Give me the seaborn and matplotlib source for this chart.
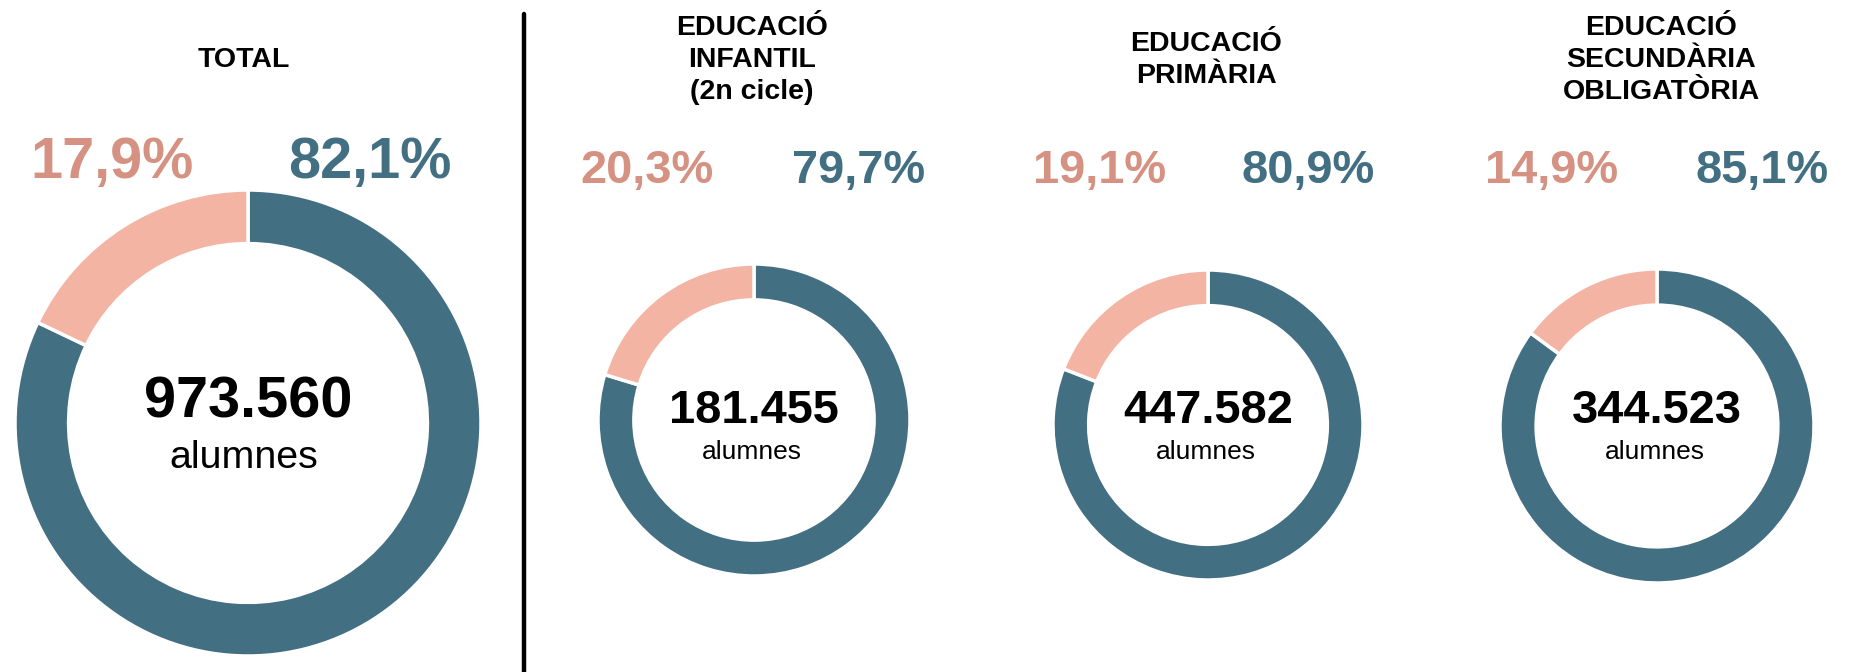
import matplotlib
matplotlib.use("Agg")
import matplotlib.pyplot as plt
import seaborn as sns

# dades
etapes = ["TOTAL", "EDUCACIÓ\nINFANTIL\n(2n cicle)", "EDUCACIÓ\nPRIMÀRIA",
          "EDUCACIÓ\nSECUNDÀRIA\nOBLIGATÒRIA"]
alumnes = [973560, 181455, 447582, 344523]
pct_blau = [82.1, 79.7, 80.9, 85.1]
pct_salmo = [17.9, 20.3, 19.1, 14.9]

sns.set_theme(style="white")
plt.rcParams['font.family'] = ['Liberation Sans', 'DejaVu Sans']

BLAU = "#436f83"
SALMO = "#f3b4a3"
SALMO_TXT = "#d59282"

W, H = 1850, 672
fig = plt.figure(figsize=(W / 100, H / 100), dpi=100)

# posicions en pixels (centre x, centre y des de dalt, radi)
donuts = [(248, 423, 233), (754, 420, 156), (1208, 425, 155), (1657, 426, 157)]
pct_x = [(112, 370), (647, 859), (1100, 1308), (1552, 1762)]
titol_x = [244, 752, 1206, 1661]


def fx(x):
    return x / W


def fy(y):
    return 1 - y / H


def fmt_num(n):
    return f"{n:,}".replace(",", ".")


def fmt_pct(p):
    return f"{p:.1f}%".replace(".", ",")


for i, (cx, cy, r) in enumerate(donuts):
    ax = fig.add_axes([fx(cx - r), fy(cy + r), 2 * r / W, 2 * r / H])
    ax.pie([pct_blau[i], pct_salmo[i]], colors=[BLAU, SALMO], startangle=90,
           counterclock=False, radius=1,
           wedgeprops=dict(width=0.23, edgecolor="white", linewidth=2.5))
    ax.set_xlim(-1, 1)
    ax.set_ylim(-1, 1)
    ax.set_aspect("equal")
    ax.axis("off")

    gran = i == 0
    # nombre d'alumnes al centre
    fig.text(fx(cx), fy(418 if gran else 423), fmt_num(alumnes[i]),
             ha="center", va="baseline", fontsize=41.5 if gran else 33.8,
             fontweight="bold", color="black")
    fig.text(fx(cx - (4 if gran else 2)), fy(468 if gran else 459), "alumnes",
             ha="center", va="baseline", fontsize=28.4 if gran else 19,
             color="black")

    # percentatges
    base = 178 if gran else 183
    mida = 41.5 if gran else 33.8
    fig.text(fx(pct_x[i][0]), fy(base), fmt_pct(pct_salmo[i]), ha="center",
             va="baseline", fontsize=mida, fontweight="bold", color=SALMO_TXT)
    fig.text(fx(pct_x[i][1]), fy(base), fmt_pct(pct_blau[i]), ha="center",
             va="baseline", fontsize=mida, fontweight="bold", color=BLAU)

    # titol
    fig.text(fx(titol_x[i]), fy(60), etapes[i], ha="center", va="center",
             fontsize=20.5, fontweight="bold", linespacing=1.3,
             multialignment="center", color="black")

# linia separadora
fig.add_artist(plt.Line2D([fx(524), fx(524)], [fy(14), fy(672)],
                          color="black", linewidth=3.2))

fig.savefig("out.png", dpi=100, facecolor="white")
